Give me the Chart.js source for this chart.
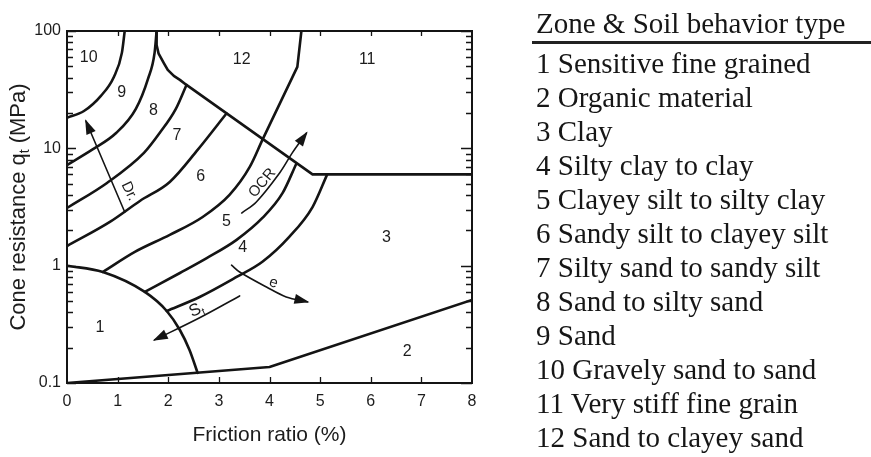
<!DOCTYPE html>
<html>
<head>
<meta charset="utf-8">
<script src="https://cdn.jsdelivr.net/npm/chart.js@4.4.1/dist/chart.umd.min.js"></script>
<style>
  html, body { margin: 0; padding: 0; background: #fff; }
  #wrap { position: relative; width: 871px; height: 457px; overflow: hidden; background: #fff; }
  #chart { position: absolute; left: 0; top: 0; }
  .serif { font-family: "Liberation Serif", "Times New Roman", serif; color: #161616; font-size: 29px; white-space: nowrap; }
  #legendTitle { position: absolute; left: 536px; top: 6px; line-height: 34px; }
  #legendRule { position: absolute; left: 532px; top: 41px; width: 339px; height: 2.5px; background: #222; }
  #legendList { position: absolute; left: 536px; top: 46px; line-height: 34px; }
</style>
</head>
<body>
<div id="wrap">
  <canvas id="chart" width="871" height="457"></canvas>
  <div id="legendTitle" class="serif"></div>
  <div id="legendRule"></div>
  <div id="legendList" class="serif"></div>
</div>
<script>
// ---------- axis ticks ----------
const xTickValues = [0, 1, 2, 3, 4, 5, 6, 7, 8];
const yMajorTicks = [0.1, 1, 10, 100];
const yMajorLabels = ['0.1', '1', '10', '100'];
const yMinorTicks = [0.2, 0.3, 0.4, 0.5, 0.6, 0.7, 0.8, 0.9,
                     2, 3, 4, 5, 6, 7, 8, 9,
                     20, 30, 40, 50, 60, 70, 80, 90];

// ---------- zone boundaries [friction ratio %, qt MPa] ----------
const boundary10to9 = [[0, 18.2], [0.335, 20.8], [0.67, 28.0], [0.926, 40.6], [1.084, 65.1], [1.14, 100]];
const boundary9to8  = [[0, 7.2], [0.49, 9.69], [0.97, 13.5], [1.36, 21.7], [1.60, 39.1], [1.73, 65.1], [1.77, 100]];
const boundary8to7  = [[0, 3.10], [0.79, 5.07], [1.52, 9.14], [1.83, 13.5], [2.15, 21.7], [2.36, 34.7]];
const boundary7to6  = [[0, 1.47], [0.847, 2.36], [1.44, 3.56], [2.03, 5.17], [2.58, 9.69], [3.15, 19.8]];
const boundary6to5  = [[0.709, 0.883], [1.34, 1.31], [2.03, 1.83], [2.68, 2.60], [3.21, 4.01], [3.61, 6.94], [3.86, 11.8]];
const boundary12to11 = [[3.86, 11.8], [4.55, 49.4], [4.63, 100]];
const boundary5to4  = [[1.537, 0.597], [2.23, 0.866], [2.76, 1.16], [3.35, 1.66], [3.86, 2.55], [4.26, 4.17], [4.53, 7.4]];
const boundary4to3  = [[1.97, 0.411], [2.62, 0.541], [3.35, 0.801], [3.86, 1.08], [4.39, 1.76], [4.85, 3.16], [5.14, 6.0]];
const boundaryUpper = [[1.77, 100], [1.77, 76], [1.81, 64], [1.91, 53.5], [1.99, 46.6], [2.11, 41.4], [2.23, 38.3],
                       [2.36, 34.7], [4.85, 6.0], [8, 6.0]];
const boundaryZone1 = [[0, 1.0], [0.709, 0.883], [1.537, 0.597], [1.97, 0.411], [2.23, 0.283], [2.42, 0.191], [2.58, 0.122]];
const boundaryZone2 = [[0, 0.1], [4, 0.137], [8, 0.51]];

// ---------- trend arrows ----------
const arrowDr  = [[1.14, 2.87], [0.374, 17.1]];
const arrowOCR = [[3.45, 2.81], [3.74, 3.49], [4.20, 6.17], [4.45, 9.14], [4.73, 13.5]];
const arrowE   = [[3.25, 1.01], [3.41, 0.883], [3.94, 0.658], [4.33, 0.541], [4.75, 0.491]];
const arrowSt  = [[3.41, 0.552], [2.62, 0.36], [1.73, 0.233]];

// ---------- zone number labels ----------
const zoneLabelText = ['1', '2', '3', '4', '5', '6', '7', '8', '9', '10', '11', '12'];
const zoneLabelX    = [0.65, 6.72, 6.31, 3.47, 3.15, 2.64, 2.17, 1.71, 1.08, 0.43, 5.93, 3.45];
const zoneLabelY    = [0.294, 0.184, 1.72, 1.42, 2.36, 5.70, 12.8, 20.8, 29.7, 59.0, 56.7, 56.7];

// ---------- arrow annotation labels ----------
const noteText = ['Dr.', 'OCR', 'e', 'S'];
const noteSub  = ['', '', '', 't'];
const noteX    = [1.23, 3.86, 4.08, 2.56];
const noteY    = [4.3, 5.07, 0.712, 0.419];
const noteAngleDeg = [64, -50, 18, -25];

// ---------- legend ----------
const legendHeader = 'Zone & Soil behavior type';
const zoneNumbers = [1, 2, 3, 4, 5, 6, 7, 8, 9, 10, 11, 12];
const zoneNames = ['Sensitive fine grained', 'Organic material', 'Clay', 'Silty clay to clay',
  'Clayey silt to silty clay', 'Sandy silt to clayey silt', 'Silty sand to sandy silt',
  'Sand to silty sand', 'Sand', 'Gravely sand to sand', 'Very stiff fine grain', 'Sand to clayey sand'];

const xTitle = 'Friction ratio (%)';
const yTitleMain = 'Cone resistance q';
const yTitleSub = 't';
const yTitleTail = ' (MPa)';

// ---------- build ----------
const INK = '#141414';
const SANS = '"Liberation Sans", Arial, Helvetica, sans-serif';

document.getElementById('legendTitle').textContent = legendHeader;
document.getElementById('legendList').innerHTML =
  zoneNumbers.map((n, i) => '<div>' + n + ' ' + zoneNames[i] + '</div>').join('');

const toPts = arr => arr.map(([x, y]) => ({ x, y }));
function lineSet(arr, mode, width) {
  const d = { data: toPts(arr), showLine: true, fill: false, pointRadius: 0, borderColor: INK,
              borderWidth: width, borderCapStyle: 'round', borderJoinStyle: 'round' };
  if (mode === 'smooth') { d.cubicInterpolationMode = 'monotone'; }
  else if (mode === 'soft') { d.tension = 0.35; }
  else { d.tension = 0; }
  return d;
}
function arrowSet(arr, mode) {
  const d = lineSet(arr, mode, 1.6);
  d.arrow = true;
  return d;
}

const datasets = [
  lineSet(boundary10to9, 'smooth', 2.6),
  lineSet(boundary9to8, 'smooth', 2.6),
  lineSet(boundary8to7, 'smooth', 2.6),
  lineSet(boundary7to6, 'smooth', 2.6),
  lineSet(boundary6to5, 'smooth', 2.6),
  lineSet(boundary12to11, 'straight', 2.6),
  lineSet(boundary5to4, 'smooth', 2.6),
  lineSet(boundary4to3, 'smooth', 2.6),
  lineSet(boundaryUpper, 'straight', 2.6),
  lineSet(boundaryZone1, 'smooth', 2.6),
  lineSet(boundaryZone2, 'straight', 2.6),
  arrowSet(arrowDr, 'straight'),
  arrowSet(arrowOCR, 'soft'),
  arrowSet(arrowE, 'soft'),
  arrowSet(arrowSt, 'soft')
];

const decor = {
  id: 'soilDecor',
  afterDatasetsDraw(chart) {
    const { ctx, chartArea: a, scales: { x, y } } = chart;
    ctx.save();
    ctx.fillStyle = INK;
    ctx.strokeStyle = INK;

    // arrowheads
    chart.data.datasets.forEach((ds, i) => {
      if (!ds.arrow) return;
      const pts = chart.getDatasetMeta(i).data;
      const p = pts[pts.length - 1], q = pts[pts.length - 2];
      const ang = Math.atan2(p.y - q.y, p.x - q.x);
      const L = 13, W = 5;
      const bx = p.x - L * Math.cos(ang), by = p.y - L * Math.sin(ang);
      ctx.beginPath();
      ctx.moveTo(p.x + 2 * Math.cos(ang), p.y + 2 * Math.sin(ang));
      ctx.lineTo(bx + W * Math.sin(ang), by - W * Math.cos(ang));
      ctx.lineTo(bx - W * Math.sin(ang), by + W * Math.cos(ang));
      ctx.closePath();
      ctx.fill();
    });

    // frame
    ctx.lineWidth = 2;
    ctx.strokeRect(a.left, a.top, a.right - a.left, a.bottom - a.top);

    // inside tick marks
    ctx.lineWidth = 1.3;
    ctx.beginPath();
    y.ticks.forEach(t => {
      const py = Math.round(y.getPixelForValue(t.value)) + 0.5;
      const major = yMajorTicks.includes(t.value);
      ctx.moveTo(a.left, py); ctx.lineTo(a.left + (major ? 9 : 6), py);
      ctx.moveTo(a.right, py); ctx.lineTo(a.right - (major ? 11 : 6), py);
    });
    x.ticks.forEach(t => {
      if (t.value <= x.min || t.value >= x.max) return;
      const px = Math.round(x.getPixelForValue(t.value)) + 0.5;
      ctx.moveTo(px, a.bottom); ctx.lineTo(px, a.bottom - 6);
      ctx.moveTo(px, a.top); ctx.lineTo(px, a.top + 5);
    });
    ctx.stroke();

    // zone numbers
    ctx.font = '16px ' + SANS;
    ctx.textAlign = 'center';
    ctx.textBaseline = 'middle';
    ctx.fillStyle = '#1c1c1c';
    zoneLabelText.forEach((s, i) => {
      ctx.fillText(s, x.getPixelForValue(zoneLabelX[i]), y.getPixelForValue(zoneLabelY[i]));
    });

    // arrow notes
    noteText.forEach((s, i) => {
      const px = x.getPixelForValue(noteX[i]), py = y.getPixelForValue(noteY[i]);
      ctx.save();
      ctx.translate(px, py);
      ctx.rotate(noteAngleDeg[i] * Math.PI / 180);
      ctx.font = (noteSub[i] ? '17px ' : '15px ') + SANS;
      const w1 = ctx.measureText(s).width;
      let w2 = 0;
      if (noteSub[i]) { ctx.font = '11px ' + SANS; w2 = ctx.measureText(noteSub[i]).width; }
      const start = -(w1 + w2) / 2;
      ctx.textAlign = 'left';
      ctx.font = (noteSub[i] ? '17px ' : '15px ') + SANS;
      ctx.fillText(s, start, 0);
      if (noteSub[i]) { ctx.font = '11px ' + SANS; ctx.fillText(noteSub[i], start + w1, 5); }
      ctx.restore();
    });

    // y axis title with subscript
    ctx.save();
    ctx.translate(19, (a.top + a.bottom) / 2);
    ctx.rotate(-Math.PI / 2);
    ctx.textAlign = 'left';
    ctx.textBaseline = 'middle';
    ctx.fillStyle = '#1c1c1c';
    const big = '22px ' + SANS, small = '14px ' + SANS;
    ctx.font = big; const m1 = ctx.measureText(yTitleMain).width; const m3 = ctx.measureText(yTitleTail).width;
    ctx.font = small; const m2 = ctx.measureText(yTitleSub).width;
    let sx = -(m1 + m2 + m3) / 2;
    ctx.font = big; ctx.fillText(yTitleMain, sx, 0); sx += m1;
    ctx.font = small; ctx.fillText(yTitleSub, sx, 6); sx += m2;
    ctx.font = big; ctx.fillText(yTitleTail, sx, 0);
    ctx.restore();

    ctx.restore();
  }
};

new Chart(document.getElementById('chart'), {
  type: 'scatter',
  data: { datasets },
  options: {
    responsive: false,
    animation: false,
    devicePixelRatio: 1,
    events: [],
    layout: { padding: { top: 31, right: 399, bottom: 0, left: 0 } },
    plugins: { legend: { display: false }, tooltip: { enabled: false }, title: { display: false } },
    scales: {
      x: {
        type: 'linear', position: 'bottom', min: 0, max: 8,
        afterBuildTicks: s => { s.ticks = xTickValues.map(v => ({ value: v })); },
        afterFit: s => { s.height = 74; },
        grid: { display: false, drawTicks: false },
        border: { display: false },
        ticks: { padding: 9, autoSkip: false, maxRotation: 0, color: '#1c1c1c',
                 font: { family: SANS, size: 16 }, callback: v => String(v) },
        title: { display: true, text: xTitle, color: '#1c1c1c',
                 font: { family: SANS, size: 21 }, padding: { top: 0, bottom: 9.5 } }
      },
      y: {
        type: 'logarithmic', position: 'left', min: 0.1, max: 100,
        afterBuildTicks: s => {
          s.ticks = yMajorTicks.concat(yMinorTicks).sort((p, q) => p - q).map(v => ({ value: v }));
        },
        afterFit: s => { s.width = 67; },
        grid: { display: false, drawTicks: false },
        border: { display: false },
        ticks: { padding: 6, autoSkip: false, color: '#1c1c1c', font: { family: SANS, size: 16 },
                 callback: v => { const k = yMajorTicks.indexOf(v); return k >= 0 ? yMajorLabels[k] : ''; } }
      }
    }
  },
  plugins: [decor]
});
</script>
</body>
</html>
